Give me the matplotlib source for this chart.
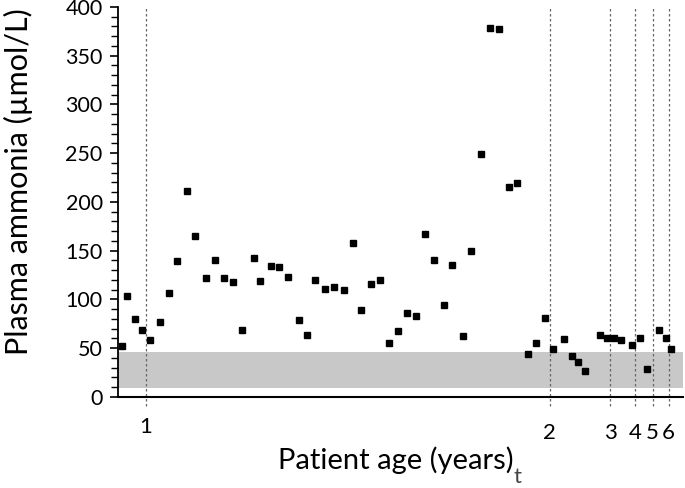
import matplotlib
matplotlib.use("Agg")
import matplotlib.pyplot as plt

# sample position along the (non-linear) age axis, and plasma ammonia values
sample_pos = [4.3, 9, 16.7, 24, 32, 42, 50.7, 59.3, 68.7, 77.3, 87.7, 96.7, 106, 115.3,
              124, 135.7, 142.3, 153, 160.7, 170, 181.3, 189, 197.3, 207.3, 216.3, 226,
              235, 243.3, 253.3, 262.3, 271, 279.7, 289.3, 298.3, 307, 315.7, 325.7,
              334.3, 344.7, 353.3, 363, 372, 380.7, 390.7, 399, 410.3, 418, 427, 435.3,
              446, 454, 460, 467.3, 481.7, 489, 496, 503.3, 513.7, 522.3, 529.3, 541,
              548.3, 552.7]
ammonia = [52, 104, 80, 69, 58, 77, 107, 139, 211, 165, 122, 141, 122, 118,
           69, 143, 119, 134, 133, 123, 79, 64, 120, 111, 113, 110, 158, 89,
           116, 120, 55, 68, 86, 83, 167, 140, 94, 135, 63, 150, 249, 378, 377,
           215, 219, 44, 55, 81, 49, 59, 42, 36, 27, 64, 61, 61, 58, 53, 61,
           29, 69, 61, 49]

# age-year boundaries (positions on the sample axis) and their labels
year_pos = [28, 431.7, 492.3, 517.3, 534.7, 550.7]
year_labels = ["1", "2", "3", "4", "5", "6"]

normal_range = (9, 46)

fig = plt.figure(figsize=(6.85, 4.88), dpi=100)
ax = fig.add_axes([0.1723, 0.1865, 0.8247, 0.7992])

ax.axhspan(normal_range[0], normal_range[1], color="#c8c8c8", lw=0, zorder=0)

for xp in year_pos:
    ax.axvline(xp, ymin=-0.022, ymax=1.0, color="#666666", lw=0.9,
               linestyle=(0, (2, 2)), clip_on=False, zorder=1)

ax.plot(sample_pos, ammonia, linestyle="none", marker="s", ms=4.3,
        color="black", zorder=3)

ax.set_xlim(0, 565)
ax.set_ylim(0, 400)

font = ["Lato", "DejaVu Sans"]
ax.set_yticks(range(0, 401, 50))
ax.set_yticks(range(0, 401, 10), minor=True)
ax.tick_params(axis="y", which="major", length=6, width=1.2, labelsize=15.5, pad=5)
ax.tick_params(axis="y", which="minor", length=5, width=1.0)
for lab in ax.get_yticklabels():
    lab.set_fontfamily(font)

ax.set_xticks(year_pos)
ax.set_xticklabels(year_labels, fontfamily=font, fontsize=16)
ax.tick_params(axis="x", which="both", length=0, pad=19)
# the "1" label sits slightly higher than the others
ax.xaxis.get_major_ticks()[0].label1.set_y(0.016)

ax.spines["top"].set_visible(False)
ax.spines["right"].set_visible(False)
ax.spines["left"].set_linewidth(1.3)
ax.spines["bottom"].set_linewidth(1.5)

ax.set_ylabel("Plasma ammonia (µmol/L)", fontfamily=font, fontsize=22, labelpad=8)
ax.yaxis.set_label_coords(-0.15, 0.551)
ax.set_xlabel("Patient age (years)", fontfamily=font, fontsize=21, labelpad=6)
ax.xaxis.set_label_coords(0.491, -0.127)
ax.xaxis.label.set_va("top")
ax.text(0.707, -0.205, "t", transform=ax.transAxes, fontsize=16,
        fontfamily=font, color="#444444", ha="center", va="center")

fig.savefig("out.png", dpi=100)
